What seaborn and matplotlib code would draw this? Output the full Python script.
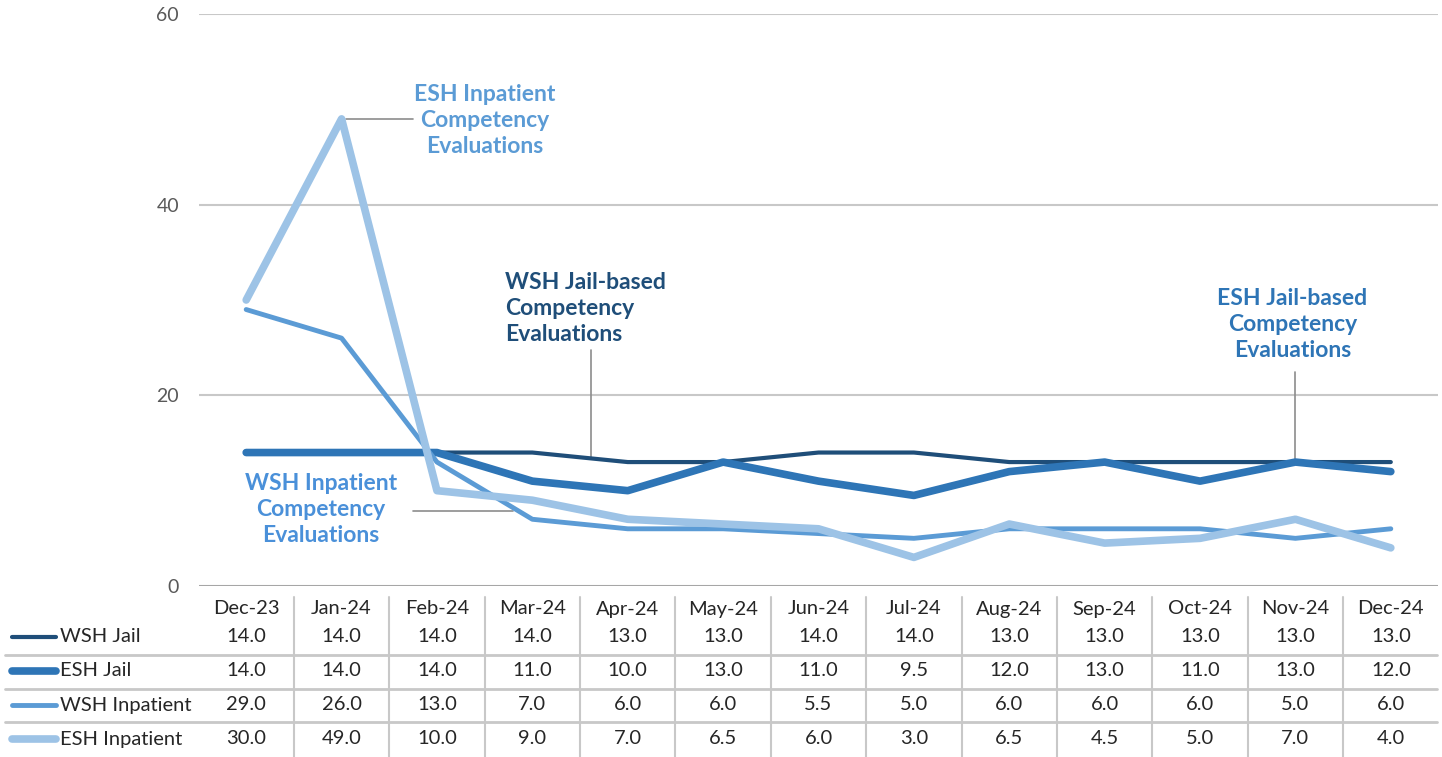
import matplotlib
matplotlib.use("Agg")
import matplotlib.pyplot as plt
import seaborn as sns
import pandas as pd

# ===================== Data =====================
months = ["Dec-23", "Jan-24", "Feb-24", "Mar-24", "Apr-24", "May-24", "Jun-24",
          "Jul-24", "Aug-24", "Sep-24", "Oct-24", "Nov-24", "Dec-24"]
wsh_jail = [14.0, 14.0, 14.0, 14.0, 13.0, 13.0, 14.0, 14.0, 13.0, 13.0, 13.0, 13.0, 13.0]
esh_jail = [14.0, 14.0, 14.0, 11.0, 10.0, 13.0, 11.0, 9.5, 12.0, 13.0, 11.0, 13.0, 12.0]
wsh_inpatient = [29.0, 26.0, 13.0, 7.0, 6.0, 6.0, 5.5, 5.0, 6.0, 6.0, 6.0, 5.0, 6.0]
esh_inpatient = [30.0, 49.0, 10.0, 9.0, 7.0, 6.5, 6.0, 3.0, 6.5, 4.5, 5.0, 7.0, 4.0]

series_names = ["WSH Jail", "ESH Jail", "WSH Inpatient", "ESH Inpatient"]
series_values = [wsh_jail, esh_jail, wsh_inpatient, esh_inpatient]
series_colors = ["#1F4E79", "#2E75B6", "#5B9BD5", "#9DC3E6"]
series_widths = [3.0, 5.5, 3.5, 5.5]

# ===================== Style =====================
sns.set_theme(style="white")
plt.rcParams["font.family"] = ["Lato", "DejaVu Sans"]

W, H = 1442, 757
fig = plt.figure(figsize=(W / 100, H / 100), dpi=100)
ax = fig.add_axes([198.5 / W, 1 - 586 / H, 1240 / W, 572 / H])

df = pd.DataFrame({
    "x": list(range(len(months))) * len(series_names),
    "value": sum(series_values, []),
    "series": [n for n in series_names for _ in months],
})

for name, color, lw in zip(series_names, series_colors, series_widths):
    sub = df[df["series"] == name]
    sns.lineplot(data=sub, x="x", y="value", ax=ax, color=color, linewidth=lw,
                 solid_capstyle="round", solid_joinstyle="round", zorder=3)

ax.set_xlim(-0.5, len(months) - 0.5)
ax.set_ylim(0, 60)
ax.set_yticks([0, 20, 40, 60])
ax.set_yticklabels(["0", "20", "40", "60"], color="#595959", fontsize=14)
ax.tick_params(axis="y", length=0, pad=14)
ax.set_xticks([])
ax.set_xlabel("")
ax.set_ylabel("")
for s in ax.spines.values():
    s.set_visible(False)
for yv in [20, 40, 60]:
    ax.axhline(yv, color="#C8C8C8", linewidth=1.5, zorder=1)
ax.axhline(0, color="#A6A6A6", linewidth=1.5, zorder=1)

# ===================== Annotations =====================
lead = dict(color="#8C8C8C", linewidth=1.2, zorder=2)
ann = dict(fontsize=16.5, fontweight="bold", linespacing=1.3)

ax.plot([1.05, 1.75], [49, 49], **lead)
ax.text(2.5, 48.8, "ESH Inpatient\nCompetency\nEvaluations", ha="center", va="center",
        color="#5B9BD5", **ann)

ax.plot([3.62, 3.62], [13.4, 24.8], **lead)
ax.text(2.71, 29.1, "WSH Jail-based\nCompetency\nEvaluations", ha="left", va="center",
        color="#1F4E79", **ann)

ax.plot([1.75, 2.8], [7.85, 7.85], **lead)
ax.text(0.78, 8.0, "WSH Inpatient\nCompetency\nEvaluations", ha="center", va="center",
        color="#4A90D9", **ann)

ax.plot([11.0, 11.0], [13.0, 22.4], **lead)
ax.text(10.97, 27.4, "ESH Jail-based\nCompetency\nEvaluations", ha="center", va="center",
        color="#2E75B6", **ann)

# ===================== Data table =====================
tr = ax.get_xaxis_transform()
def ay(py):
    return (586 - py) / 572

for i, m in enumerate(months):
    ax.text(i, ay(609), m, transform=tr, ha="center", va="center", fontsize=14.5,
            color="#262626", clip_on=False)
row_y = [637, 671, 705, 739]
for name, vals, color, lw, py in zip(series_names, series_values, series_colors,
                                     series_widths, row_y):
    for i, v in enumerate(vals):
        ax.text(i, ay(py), f"{v:.1f}", transform=tr, ha="center", va="center",
                fontsize=14.5, color="#262626", clip_on=False)
    fig.add_artist(plt.Line2D([12 / W, 56 / W], [1 - py / H, 1 - py / H], color=color,
                              linewidth=lw, solid_capstyle="round"))
    fig.text(60 / W, 1 - py / H, name, ha="left", va="center", fontsize=14.5, color="#262626")

# table grid lines
for py in [655, 689, 722]:
    fig.add_artist(plt.Line2D([5 / W, 1437 / W], [1 - py / H, 1 - py / H],
                              color="#C8C8C8", linewidth=2))
for i in range(1, len(months)):
    ax.plot([i - 0.5, i - 0.5], [ay(597), ay(757)], transform=tr, color="#C8C8C8",
            linewidth=1.5, clip_on=False)

fig.savefig("out.png", dpi=100)
